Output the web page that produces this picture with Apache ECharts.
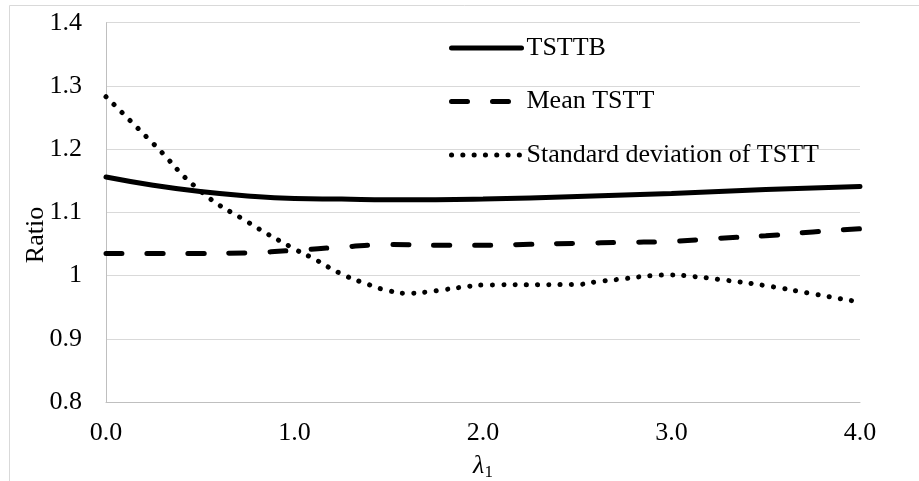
<!DOCTYPE html>
<html>
<head>
<meta charset="utf-8">
<script src="https://cdn.jsdelivr.net/npm/echarts@6/dist/echarts.min.js"></script>
<style>html,body{margin:0;padding:0;background:#fff}#c{width:919px;height:481px}</style>
</head>
<body>
<div id="c"></div>
<script>
// Data
var tsttbX = [0, 0.25, 0.5, 0.75, 1.0, 1.25, 1.5, 1.75, 2.0, 2.5, 3.0, 3.5, 4.0];
var tsttbY = [1.156, 1.143, 1.133, 1.126, 1.122, 1.121, 1.120, 1.120, 1.121, 1.125, 1.130, 1.136, 1.141];

var meanX = [0, 0.25, 0.5, 0.75, 1.0, 1.25, 1.5, 1.75, 2.0, 2.25, 2.5, 2.75, 3.0, 3.25, 3.5, 3.75, 4.0];
var meanY = [1.035, 1.035, 1.035, 1.036, 1.040, 1.045, 1.049, 1.048, 1.048, 1.0495, 1.051, 1.0525, 1.054, 1.059, 1.063, 1.069, 1.074];

var sdX = [0, 0.25, 0.5, 0.75, 1.0, 1.1, 1.25, 1.4, 1.5, 1.6, 1.7, 1.8, 1.9, 2.0, 2.5, 2.6, 2.75, 2.9, 3.0, 3.1, 3.25, 3.5, 3.75, 4.0];
var sdY = [1.283, 1.209, 1.134, 1.085, 1.042, 1.027, 1.0025, 0.985, 0.976, 0.972, 0.974, 0.978, 0.982, 0.985, 0.986, 0.990, 0.995, 1.000, 1.001, 0.999, 0.994, 0.984, 0.971, 0.958];

var seriesNames = ['TSTTB', 'Mean TSTT', 'Standard deviation of TSTT'];
var xTickLabels = ['0.0', '1.0', '2.0', '3.0', '4.0'];
var yTickLabels = ['0.8', '0.9', '1', '1.1', '1.2', '1.3', '1.4'];

function pairs(xs, ys) { return xs.map(function (x, i) { return [x, ys[i]]; }); }

var FONT = "'Liberation Serif', 'Times New Roman', serif";
var styles = [
  { color: '#000', width: 5, type: 'solid', cap: 'round' },
  { color: '#000', width: 5, type: [16, 25], cap: 'round' },
  { color: '#000', width: 5, type: [0.1, 11.2], cap: 'round' }
];
var chart = echarts.init(document.getElementById('c'));
chart.setOption({
  animation: false,
  backgroundColor: '#fff',
  textStyle: { fontFamily: FONT, color: '#000' },
  grid: { left: 106, right: 59, top: 22.7, bottom: 79 },
  graphic: [
    { type: 'rect', left: 7, top: 3, shape: { width: 2000, height: 2000 }, style: { fill: null, stroke: '#d9d9d9', lineWidth: 1 }, silent: true, z: -10 },
    { type: 'text', x: 36, y: 235, rotation: Math.PI / 2, style: { text: 'Ratio', font: "26px 'Liberation Serif', 'Times New Roman', serif", fill: '#000', align: 'center', verticalAlign: 'middle' } },
    { type: 'text', x: 483, y: 466, style: { rich: { i: { font: "italic 26px 'Liberation Serif', 'Times New Roman', serif", fill: '#000' }, s: { font: "17px 'Liberation Serif', 'Times New Roman', serif", fill: '#000', padding: [14, 0, 0, 0] } }, text: '{i|λ}{s|1}', align: 'center', verticalAlign: 'middle' } }
  ],
  legend: {
    orient: 'vertical',
    left: 449,
    top: 35,
    padding: 0,
    itemWidth: 70,
    itemHeight: 26,
    itemGap: 27.5,
    itemStyle: { opacity: 0 },
    textStyle: { fontFamily: FONT, fontSize: 26, color: '#000' },
    data: seriesNames.map(function (n, i) { return { name: n, lineStyle: styles[i] }; })
  },
  xAxis: {
    type: 'value', min: 0, max: 4, interval: 1,
    axisLine: { lineStyle: { color: '#bfbfbf', width: 1 } },
    axisTick: { show: false },
    splitLine: { show: false },
    axisLabel: { fontFamily: FONT, fontSize: 26, color: '#000', margin: 18,
      formatter: function (v) { return xTickLabels[Math.round(v)]; } }
  },
  yAxis: {
    type: 'value', min: 0.8, max: 1.4, interval: 0.1,
    axisLine: { show: true, lineStyle: { color: '#bfbfbf', width: 1 } },
    axisTick: { show: false },
    splitLine: { lineStyle: { color: '#d9d9d9', width: 1 } },
    axisLabel: { fontFamily: FONT, fontSize: 26, color: '#000', margin: 24,
      formatter: function (v) { return yTickLabels[Math.round((v - 0.8) * 10)]; } }
  },
  series: [
    { name: seriesNames[0], type: 'line', smooth: true, symbol: 'none', data: pairs(tsttbX, tsttbY),
      lineStyle: styles[0], itemStyle: { color: '#000' } },
    { name: seriesNames[1], type: 'line', smooth: true, symbol: 'none', data: pairs(meanX, meanY),
      lineStyle: styles[1], itemStyle: { color: '#000' } },
    { name: seriesNames[2], type: 'line', smooth: true, symbol: 'none', data: pairs(sdX, sdY),
      lineStyle: styles[2], itemStyle: { color: '#000' } }
  ]
});
</script>
</body>
</html>
